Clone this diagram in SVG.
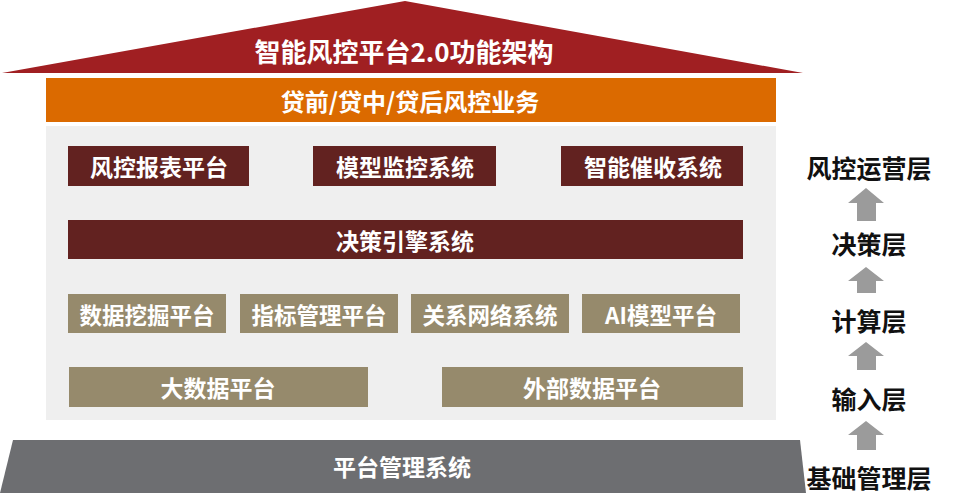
<svg xmlns="http://www.w3.org/2000/svg" width="966" height="500" viewBox="0 0 966 500">
<style>
.t{font-family:"Noto Sans CJK SC","Noto Sans",sans-serif;font-weight:bold;fill:#fff;text-anchor:middle;dominant-baseline:central}
.tk{font-family:"Noto Sans CJK SC","Noto Sans",sans-serif;font-weight:bold;fill:#111;text-anchor:middle;dominant-baseline:central;font-size:25px}
.red{fill:#622220}
.tan{fill:#968A6C}
.arr{fill:#9B9B9B}
</style>
<rect width="966" height="500" fill="#fff"/>
<g id="roof">
<polygon points="405,1 803,73 2,73" fill="#A01F22"/>
<text class="t" x="404" y="50" font-size="26">智能风控平台2.0功能架构</text>
</g>
<g id="business">
<rect x="46" y="78" width="730" height="44" fill="#DB6A00"/>
<text class="t" x="410" y="100" font-size="24">贷前/贷中/贷后风控业务</text>
</g>
<rect id="panel" x="46" y="126" width="730" height="294" fill="#EFEFEF"/>
<g id="n1"><rect class="red" x="68" y="146" width="181" height="40"/><text class="t" x="159" y="166" font-size="23">风控报表平台</text></g>
<g id="n2"><rect class="red" x="313" y="146" width="183" height="40"/><text class="t" x="405" y="166" font-size="23">模型监控系统</text></g>
<g id="n3"><rect class="red" x="561" y="146" width="182" height="40"/><text class="t" x="653" y="166" font-size="23">智能催收系统</text></g>
<g id="n4"><rect class="red" x="68" y="220" width="675" height="39"/><text class="t" x="405" y="240" font-size="23">决策引擎系统</text></g>
<g id="n5"><rect class="tan" x="68" y="294" width="158" height="39"/><text class="t" x="147" y="314" font-size="22.5">数据挖掘平台</text></g>
<g id="n6"><rect class="tan" x="240" y="294" width="158" height="39"/><text class="t" x="319" y="314" font-size="22.5">指标管理平台</text></g>
<g id="n7"><rect class="tan" x="411" y="294" width="158" height="39"/><text class="t" x="490" y="314" font-size="22.5">关系网络系统</text></g>
<g id="n8"><rect class="tan" x="582" y="294" width="158" height="39"/><text class="t" x="661" y="314" font-size="22.5">AI模型平台</text></g>
<g id="n9"><rect class="tan" x="69" y="367" width="299" height="40"/><text class="t" x="218" y="387" font-size="23">大数据平台</text></g>
<g id="n10"><rect class="tan" x="442" y="367" width="301" height="40"/><text class="t" x="592" y="387" font-size="23">外部数据平台</text></g>
<g id="base">
<polygon points="13,440 800,440 806,493 0,493" fill="#6D6E71"/>
<text class="t" x="402" y="466" font-size="23">平台管理系统</text>
</g>
<g id="layers">
<text class="tk" x="869" y="167">风控运营层</text>
<text class="tk" x="869" y="243">决策层</text>
<text class="tk" x="869" y="320">计算层</text>
<text class="tk" x="869" y="398">输入层</text>
<text class="tk" x="869" y="477">基础管理层</text>
</g>
<g id="connectors">
<polygon class="arr" points="866,188 884,203 876,203 876,221 857,221 857,203 848,203"/>
<polygon class="arr" points="866,267 884,281 876,281 876,293 857,293 857,281 848,281"/>
<polygon class="arr" points="866,342 884,356 876,356 876,370 857,370 857,356 848,356"/>
<polygon class="arr" points="866,421 884,435 876,435 876,450 857,450 857,435 848,435"/>
</g>
</svg>
